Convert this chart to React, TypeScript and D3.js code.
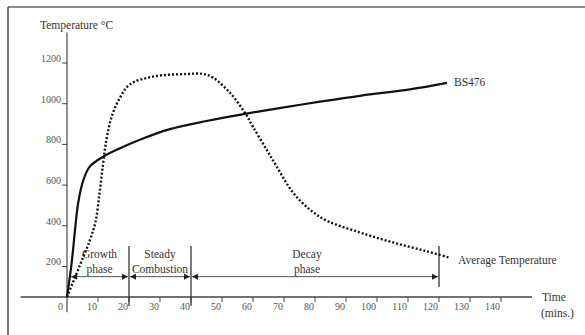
import React from "react";
import * as d3 from "d3";

// BS476 standard curve (solid)
const bsTime = [0, 1.5, 2.6, 3.6, 5.3, 7.4, 11.7, 17.1, 23.5, 33.2, 45, 57.4, 70, 81.6, 95, 110.6, 122.6];
const bsTemp = [50, 218, 381, 512, 626, 692, 740, 781, 823, 875, 915, 950, 982, 1010, 1040, 1070, 1102];

// average temperature of a real fire (dotted)
const avgTime = [0, 4, 7.4, 9.2, 10.5, 11.6, 12.8, 14.5, 17.1, 20.3, 27.7, 38.6, 43.9, 47.1, 52.6, 57.4, 60, 64.4, 67.6, 72.9, 78.4, 83.8, 94.5, 105.2, 116, 123.5];
const avgTemp = [50, 200, 330, 420, 560, 700, 830, 940, 1030, 1095, 1133, 1146, 1146, 1128, 1053, 955, 886, 774, 692, 563, 479, 425, 367, 318, 275, 243];

const xTicks = [10, 20, 30, 40, 50, 60, 70, 80, 90, 100, 110, 120, 130, 140];
const yTicks = [200, 400, 600, 800, 1000, 1200];

const phaseNames = [["Growth", "phase"], ["Steady", "Combustion"], ["Decay", "phase"]];
const phaseStart = [1, 20, 40];
const phaseEnd = [20, 40, 120];
const dividers = [20, 40, 120];

const W = 585, H = 335;
const serif = "'Liberation Serif', 'Times New Roman', serif";

export default function App() {
  const x = d3.scaleLinear().domain([0, 140]).range([67, 501]);
  const y = d3.scaleLinear().domain([50, 1200]).range([297, 63]);

  const line = d3.line<[number, number]>()
    .curve(d3.curveCatmullRom.alpha(0.5))
    .x(d => x(d[0]))
    .y(d => y(d[1]));

  const bs = line(bsTime.map((t, i) => [t, bsTemp[i]] as [number, number])) || "";
  const avg = line(avgTime.map((t, i) => [t, avgTemp[i]] as [number, number])) || "";

  const x0 = x(0), y0 = y(50);
  const arrowY = y(150);

  return (
    <svg width={W} height={H} style={{ position: "absolute", left: 0, top: 0, background: "#fff" }}
      fontFamily={serif}>
      <defs>
        <marker id="ah" viewBox="0 0 10 10" refX="10" refY="5" markerWidth="7" markerHeight="6"
          orient="auto-start-reverse" markerUnits="userSpaceOnUse">
          <path d="M0,0 L10,5 L0,10 z" fill="#222" />
        </marker>
      </defs>
      {/* frame */}
      <line x1={8} x2={W} y1={7} y2={7} stroke="#666" strokeWidth={1.5} />
      <line x1={8} x2={8} y1={7} y2={H} stroke="#444" strokeWidth={1.5} />

      {/* axes */}
      <line x1={x(-15)} x2={x(150)} y1={y0} y2={y0} stroke="#444" strokeWidth={1.3} />
      <line x1={x0} x2={x0} y1={y(-25)} y2={y(1350)} stroke="#555" strokeWidth={1.3} />

      {xTicks.map(t => (
        <g key={t}>
          <line x1={x(t)} x2={x(t)} y1={y0} y2={y0 + 5} stroke="#444" strokeWidth={1} />
          <text x={x(t) - 1} y={y0 + 13} fontSize={10} fill="#555" textAnchor="end">{t}</text>
        </g>
      ))}
      <text x={x0 - 4} y={y0 + 13} fontSize={10} fill="#555" textAnchor="end">0</text>

      {yTicks.map(v => (
        <g key={v}>
          <line x1={x0 - 5} x2={x0} y1={y(v)} y2={y(v)} stroke="#444" strokeWidth={1} />
          <text x={x0 - 6} y={y(v) - 1} fontSize={10} fill="#555" textAnchor="end">{v}</text>
        </g>
      ))}

      <text x={40} y={29} fontSize={11.5} fill="#333">Temperature °C</text>
      <text x={542} y={301} fontSize={11.5} fill="#333">Time</text>
      <text x={541} y={317} fontSize={11.5} fill="#333">(mins.)</text>

      {/* phases */}
      {dividers.map((t, i) => (
        <line key={t} x1={x(t)} x2={x(t)} y1={246} y2={i < 2 ? 306 : 287} stroke="#333" strokeWidth={1.3} />
      ))}
      {phaseNames.map((nm, i) => {
        const cx = (x(phaseStart[i]) + x(phaseEnd[i])) / 2 - (i === 2 ? 8 : 0);
        return (
          <g key={i}>
            <line x1={x(phaseStart[i]) + 1} x2={x(phaseEnd[i]) - 1} y1={arrowY} y2={arrowY}
              stroke="#555" strokeWidth={1} markerStart="url(#ah)" markerEnd="url(#ah)" />
            <text x={cx} y={arrowY - 19} fontSize={11.5} fill="#333" textAnchor="middle">{nm[0]}</text>
            <text x={cx} y={arrowY - 4} fontSize={11.5} fill="#333" textAnchor="middle">{nm[1]}</text>
          </g>
        );
      })}

      {/* curves */}
      <path d={bs} fill="none" stroke="#111" strokeWidth={2.2} />
      <path d={avg} fill="none" stroke="#111" strokeWidth={2.4} strokeDasharray="2 2" />

      <text x={454} y={86} fontSize={11.5} fill="#333">BS476</text>
      <text x={458} y={264} fontSize={11.5} fill="#333">Average Temperature</text>
    </svg>
  );
}
